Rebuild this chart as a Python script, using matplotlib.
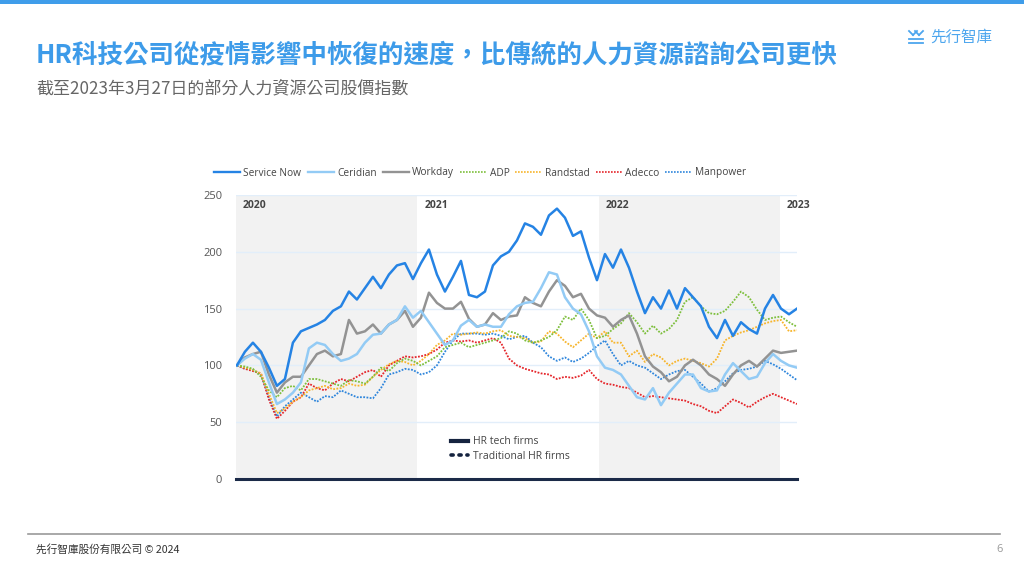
import numpy as np
import matplotlib
matplotlib.use("Agg")
import matplotlib.pyplot as plt
from matplotlib.lines import Line2D

plt.rcParams['font.family'] = ['Open Sans', 'DejaVu Sans']
CJK = ['Noto Sans CJK TC', 'DejaVu Sans']

# ---------------- data (index = 100 at start) ----------------
years = [2020, 2021, 2022, 2023]
shaded_years = [2020, 2022]
x_start, x_end = 2020.005, 2023.094
n_points = 71

service_now = [100, 112, 120, 112, 98, 82, 88, 120, 130, 133, 136, 140, 148, 152, 165, 158, 168, 178,
               168, 180, 188, 190, 176, 190, 202, 180, 165, 178, 192, 162, 160, 165, 188, 196, 200, 210,
               225, 222, 215, 232, 238, 230, 214, 218, 195, 175, 198, 186, 202, 186, 165, 146, 160, 150,
               166, 150, 168, 160, 152, 134, 124, 140, 126, 138, 132, 128, 150, 162, 150, 145, 150]
ceridian = [100, 106, 110, 105, 85, 66, 70, 76, 85, 115, 120, 118, 110, 104, 106, 110, 120, 127,
            128, 136, 140, 152, 142, 148, 138, 128, 118, 122, 135, 140, 134, 136, 134, 134, 145, 152,
            155, 156, 168, 182, 180, 160, 150, 145, 130, 108, 98, 96, 92, 82, 72, 70, 80, 65,
            76, 84, 92, 92, 80, 77, 78, 92, 102, 95, 88, 90, 102, 110, 104, 100, 98]
workday = [100, 107, 110, 112, 92, 76, 85, 90, 90, 100, 110, 113, 108, 110, 140, 128, 130, 136,
           128, 136, 140, 148, 134, 142, 164, 155, 150, 150, 156, 141, 134, 136, 146, 140, 143, 144,
           160, 155, 152, 165, 175, 170, 160, 163, 150, 144, 142, 134, 140, 144, 128, 108, 99, 94,
           86, 90, 100, 105, 100, 92, 88, 82, 92, 100, 104, 99, 106, 113, 111, 112, 113]
adp = [100, 99, 97, 90, 78, 72, 80, 82, 78, 88, 88, 86, 84, 82, 87, 86, 84, 90,
       98, 95, 102, 106, 104, 100, 104, 108, 116, 118, 120, 116, 118, 120, 122, 124, 130, 128,
       122, 120, 122, 125, 131, 143, 140, 150, 140, 124, 126, 132, 137, 146, 138, 128, 135, 128,
       132, 140, 156, 160, 152, 146, 145, 148, 156, 165, 160, 149, 140, 142, 143, 138, 134]
randstad = [100, 98, 96, 93, 75, 58, 62, 68, 72, 78, 80, 82, 79, 80, 84, 82, 83, 90,
            96, 101, 104, 103, 100, 104, 110, 118, 122, 128, 127, 128, 129, 128, 130, 131, 126, 125,
            124, 120, 121, 130, 128, 121, 116, 122, 128, 124, 130, 120, 120, 108, 113, 103, 110, 107,
            100, 104, 106, 104, 102, 99, 106, 122, 126, 129, 131, 134, 137, 139, 140, 130, 131]
adecco = [100, 97, 95, 93, 70, 53, 60, 68, 72, 84, 80, 78, 84, 88, 86, 90, 94, 96,
          90, 100, 104, 108, 107, 108, 110, 114, 120, 122, 121, 122, 120, 122, 124, 120, 106, 100,
          97, 95, 93, 92, 88, 90, 89, 91, 96, 88, 84, 83, 81, 80, 76, 72, 73, 72,
          71, 70, 69, 66, 64, 60, 58, 64, 70, 67, 63, 68, 72, 75, 72, 69, 66]
manpower = [100, 97, 96, 92, 72, 55, 64, 70, 76, 72, 68, 73, 72, 78, 75, 72, 72, 71,
            80, 92, 94, 97, 96, 92, 94, 100, 112, 122, 128, 128, 128, 127, 128, 126, 123, 125,
            126, 120, 116, 108, 104, 107, 103, 106, 111, 117, 122, 110, 100, 104, 100, 98, 93, 88,
            92, 95, 96, 90, 84, 77, 80, 86, 93, 96, 97, 99, 104, 101, 97, 92, 87]

series_names = ['Service Now', 'Ceridian', 'Workday', 'ADP', 'Randstad', 'Adecco', 'Manpower']
series_values = [service_now, ceridian, workday, adp, randstad, adecco, manpower]
series_colors = ['#2583e4', '#93cbf5', '#939393', '#7dbf3c', '#f7b52c', '#e5262b', '#2f86dc']
series_tech = [True, True, True, False, False, False, False]
yticks = [0, 50, 100, 150, 200, 250]

# ---------------- figure ----------------
fig = plt.figure(figsize=(10.24, 5.76), dpi=100)
fig.patch.set_facecolor('white')

# top bar
fig.add_artist(plt.Rectangle((0, 1 - 4 / 576), 1, 4 / 576, transform=fig.transFigure,
                             color='#3f9dea', lw=0))

fig.text(36 / 1024, 1 - 55 / 576, 'HR科技公司從疫情影響中恢復的速度，比傳統的人力資源諮詢公司更快',
         family=CJK, fontsize=18.4, fontweight='bold', color='#3d9be9', va='center', ha='left')
fig.text(36 / 1024, 1 - 88 / 576, '截至2023年3月27日的部分人力資源公司股價指數',
         family=CJK, fontsize=12.25, color='#666666', va='center', ha='left')

# logo
fig.text(930 / 1024, 1 - 37 / 576, '先行智庫', family=CJK, fontsize=11.2, color='#4da6ee',
         va='center', ha='left')
for (x0, y0, x1, y1) in [(909, 31, 913, 35), (913, 35, 917, 31), (915, 31, 919, 35), (919, 35, 923, 31),
                         (909, 39, 923, 39), (909, 43, 923, 43)]:
    fig.add_artist(Line2D([x0 / 1024, x1 / 1024], [1 - y0 / 576, 1 - y1 / 576],
                          transform=fig.transFigure, color='#4da6ee', lw=1.3))

# footer
fig.add_artist(Line2D([28 / 1024, 1000 / 1024], [1 - 534 / 576, 1 - 534 / 576],
                      transform=fig.transFigure, color='#9a9a9a', lw=1.2))
fig.text(36 / 1024, 1 - 549 / 576, '先行智庫股份有限公司 © 2024', family=CJK, fontsize=7.7,
         color='#333333', va='center', ha='left')
fig.text(1003 / 1024, 1 - 549 / 576, '6', fontsize=8, color='#999999', va='center', ha='right')

# ---------------- chart ----------------
ax = fig.add_axes([236 / 1024, 1 - 479 / 576, (797 - 236) / 1024, (479 - 195) / 576])
ax.set_facecolor('white')
x = np.linspace(x_start, x_end, n_points)

for yr in shaded_years:
    ax.axvspan(yr, yr + 1, color='#f2f2f2', lw=0, zorder=0)
for yt in yticks[1:]:
    ax.axhline(yt, color='#e2eefa', lw=1, zorder=0.5)

order = [6, 5, 4, 3, 2, 1, 0]
for i in order:
    tech = series_tech[i]
    ax.plot(x, series_values[i], color=series_colors[i],
            lw=1.8 if tech else 1.3,
            ls='-' if tech else (0, (1, 0.8)),
            zorder=3 if tech else 2,
            solid_joinstyle='round')

for yr in years:
    ax.text(yr + 0.038, 241, str(yr), fontsize=7.5, fontweight='bold', color='#444444',
            va='center', ha='left', clip_on=False, zorder=5)

ax.set_xlim(2020.0, x_end)
ax.set_ylim(0, 250)
ax.set_yticks(yticks)
ax.set_xticks([])
ax.tick_params(axis='y', length=0, pad=10, labelsize=8, labelcolor='#555555')
for s in ['top', 'right', 'left']:
    ax.spines[s].set_visible(False)
ax.spines['bottom'].set_color('#1b2a48')
ax.spines['bottom'].set_linewidth(2.2)
ax.spines['bottom'].set_zorder(6)

# top legend
handles = [Line2D([], [], color=series_colors[i], lw=1.7 if series_tech[i] else 1.2,
                  ls='-' if series_tech[i] else (0, (1, 0.8))) for i in range(len(series_names))]
fig.legend(handles, series_names, loc='center', bbox_to_anchor=(480 / 1024, 1 - 173 / 576),
           ncol=7, frameon=False, fontsize=7.3, handlelength=2.6, handletextpad=0.3,
           columnspacing=0.6, labelcolor='#444444')

# type legend
type_handles = [Line2D([], [], color='#15233f', lw=3, ls='-'),
                Line2D([], [], color='#15233f', lw=2.6, ls=(0, (0.6, 1.6)), dash_capstyle='round')]
leg2 = ax.legend(type_handles, ['HR tech firms', 'Traditional HR firms'], loc='center left',
                 bbox_to_anchor=((442 - 236) / 561, (479 - 449) / 284), frameon=False, fontsize=7.5,
                 handlelength=1.6, handletextpad=0.5, labelspacing=0.35, labelcolor='#444444')

fig.savefig('out.png', dpi=100, facecolor='white')
